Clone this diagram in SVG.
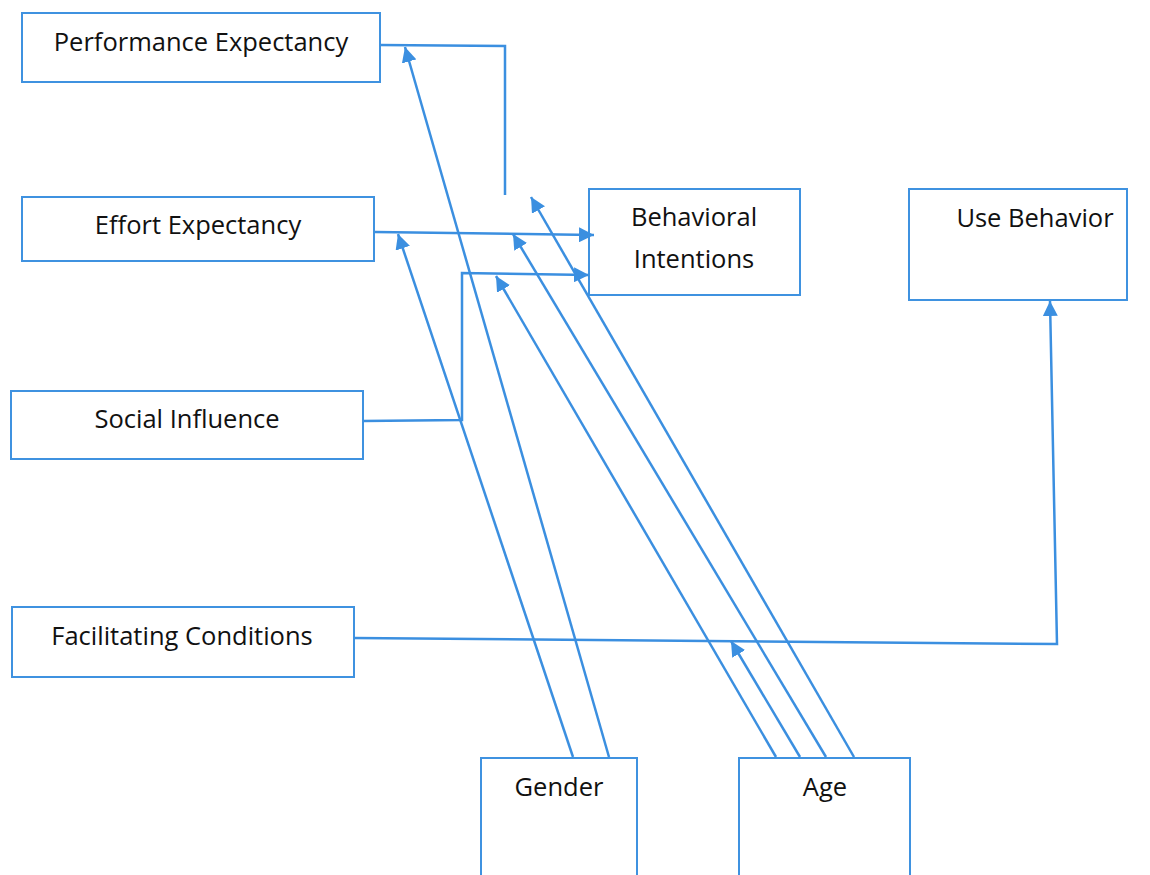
<svg xmlns="http://www.w3.org/2000/svg" width="1150" height="875" viewBox="0 0 1150 875">
<style>
.box{fill:#fff;stroke:#3f92e0;stroke-width:2}
.lbl{font-family:"Open Sans","Noto Sans",sans-serif;font-size:25.5px;fill:#111;text-anchor:middle}
.c{fill:none;stroke:#3b8fe0;stroke-width:2.5;stroke-linejoin:miter}
.a{marker-end:url(#ah)}
</style>
<defs>
<marker id="ah" markerUnits="userSpaceOnUse" viewBox="0 0 15 15" markerWidth="15" markerHeight="15" refX="15" refY="7.5" orient="auto">
<path d="M0,0 L15,7.5 L0,15 z" fill="#3b8fe0"/>
</marker>
</defs>
<rect width="1150" height="875" fill="#fff"/>
<g id="pe"><rect class="box" x="22" y="13" width="358" height="69"/><text class="lbl" x="201" y="51">Performance Expectancy</text></g>
<g id="ee"><rect class="box" x="22" y="197" width="352" height="64"/><text class="lbl" x="198" y="234">Effort Expectancy</text></g>
<g id="si"><rect class="box" x="11" y="391" width="352" height="68"/><text class="lbl" x="187" y="428">Social Influence</text></g>
<g id="fc"><rect class="box" x="12" y="607" width="342" height="70"/><text class="lbl" x="182" y="645">Facilitating Conditions</text></g>
<g id="bi"><rect class="box" x="589" y="189" width="211" height="106"/><text class="lbl" x="694" y="226">Behavioral</text><text class="lbl" x="694" y="268">Intentions</text></g>
<g id="ub"><rect class="box" x="909" y="189" width="218" height="111"/><text class="lbl" x="1035" y="227">Use Behavior</text></g>
<g id="gender"><rect class="box" x="481" y="758" width="156" height="120"/><text class="lbl" x="559" y="796">Gender</text></g>
<g id="age"><rect class="box" x="739" y="758" width="171" height="120"/><text class="lbl" x="825" y="796">Age</text></g>
<g id="connectors">
<path class="c" d="M380,45 L505,46 L505,195"/>
<path class="c a" d="M375,232 L594,235"/>
<path class="c a" d="M363,421 L462,420 L462,273 L589,275"/>
<path class="c a" d="M354,638 L1057,644 L1050,301"/>
<path class="c a" d="M573,757 L398,234"/>
<path class="c a" d="M609,757 L405,47"/>
<path class="c a" d="M776,757 L496,276"/>
<path class="c a" d="M800,757 L731,641"/>
<path class="c a" d="M826,757 L513,234"/>
<path class="c a" d="M854,757 L531,197"/>
</g>
</svg>
